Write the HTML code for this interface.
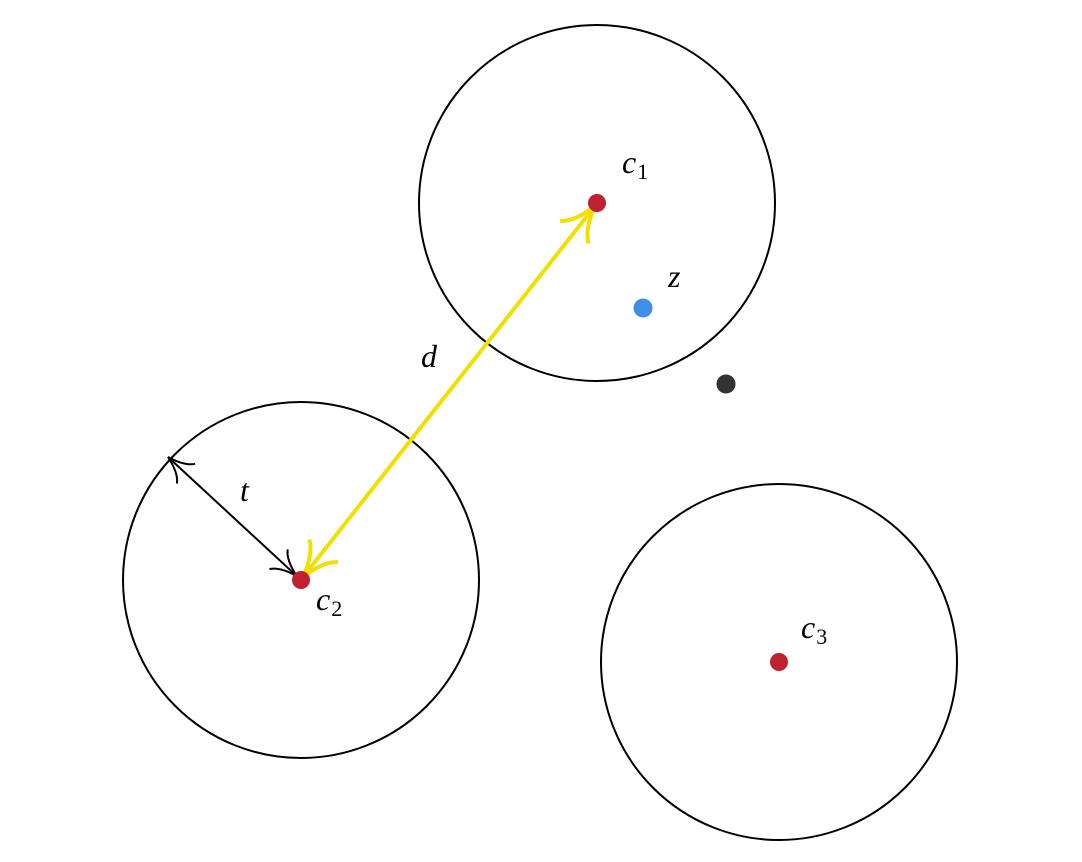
<!DOCTYPE html>
<html><head><meta charset="utf-8"><style>
html,body{margin:0;padding:0;background:#fff;}
svg{display:block;}
text{font-family:"Liberation Serif",serif;font-style:italic;font-size:32px;fill:#000;}
.sub{font-style:normal;font-size:22px;}
</style></head><body>
<svg id="fig" width="1082" height="862" viewBox="0 0 1082 862">
<g id="circles"></g>
<g id="arrows"></g>
<g id="points"></g>
<g id="labels"></g>
</svg>
<script>
const clusterNames = ["c1","c2","c3"];
const clusterX = [597,301,779];
const clusterY = [203,580,662];
const clusterR = [178,178,178];
const pointNames = ["z","outlier"];
const pointX = [643,726];
const pointY = [308,384];
const pointColors = ["#3f8fe8","#333333"];
const NS="http://www.w3.org/2000/svg";
function mk(tag,attrs,parent){const e=document.createElementNS(NS,tag);for(const k in attrs)e.setAttribute(k,attrs[k]);parent.appendChild(e);return e;}
const gc=document.getElementById('circles'),ga=document.getElementById('arrows'),gp=document.getElementById('points'),gl=document.getElementById('labels');
for(let i=0;i<clusterNames.length;i++){
  const c=mk('circle',{cx:clusterX[i],cy:clusterY[i],r:clusterR[i],fill:'none',stroke:'#000','stroke-width':2},gc);
  
  
}
function head(x,y,ang,color,w,len){
  const a1=ang+Math.PI-0.5,a2=ang+Math.PI+0.5;
  const p1=[x+len*Math.cos(a1),y+len*Math.sin(a1)],p2=[x+len*Math.cos(a2),y+len*Math.sin(a2)];
  const ax=[x-len*0.55*Math.cos(ang),y-len*0.55*Math.sin(ang)];
  const q1=[ax[0]+(p1[0]-ax[0])*0.35,ax[1]+(p1[1]-ax[1])*0.35];
  const q2=[ax[0]+(p2[0]-ax[0])*0.35,ax[1]+(p2[1]-ax[1])*0.35];
  return mk('path',{d:`M${p1[0]},${p1[1]} Q${q1[0]},${q1[1]} ${x},${y} Q${q2[0]},${q2[1]} ${p2[0]},${p2[1]}`,fill:'none',stroke:color,'stroke-width':w,'stroke-linecap':'butt'},ga);
}
function arrow(x1,y1,x2,y2,color,w,len,name){
  const l=mk('line',{x1,y1,x2,y2,stroke:color,'stroke-width':w},ga);
  
  
  const ang=Math.atan2(y2-y1,x2-x1);
  const h1=head(x2,y2,ang,color,w,len);
  
  
  const h2=head(x1,y1,ang+Math.PI,color,w,len);
  
  
}
const ta=Math.atan2(clusterY[1]-457,clusterX[1]-168);
arrow(168,457,clusterX[1]-6*Math.cos(ta),clusterY[1]-6*Math.sin(ta),'#000',2,28,'radius-arrow-t');
arrow(clusterX[1]+2,clusterY[1]-3,clusterX[0]-2,clusterY[0]+3,'#f0e000',4,38,'distance-arrow-d');
for(let i=0;i<clusterNames.length;i++){
  const c=mk('circle',{cx:clusterX[i],cy:clusterY[i],r:9,fill:'#c0202f'},gp);
  
  
}
for(let i=0;i<pointNames.length;i++){
  const c=mk('circle',{cx:pointX[i],cy:pointY[i],r:9.5,fill:pointColors[i]},gp);
  
  
}
const labs=[["c","1",622,173,"label-c1"],["c","2",316,610,"label-c2"],["c","3",801,638,"label-c3"],["z","",668,287,"label-z"],["d","",421,367,"label-d"],["t","",240,501,"label-t"]];
for(const L of labs){
  const t=mk('text',{x:L[2],y:L[3]},gl);
  t.textContent=L[0];
  if(L[1]){const s=mk('tspan',{class:'sub',dy:6,dx:1},t);s.textContent=L[1];}
  
  
}
</script>
</body></html>
